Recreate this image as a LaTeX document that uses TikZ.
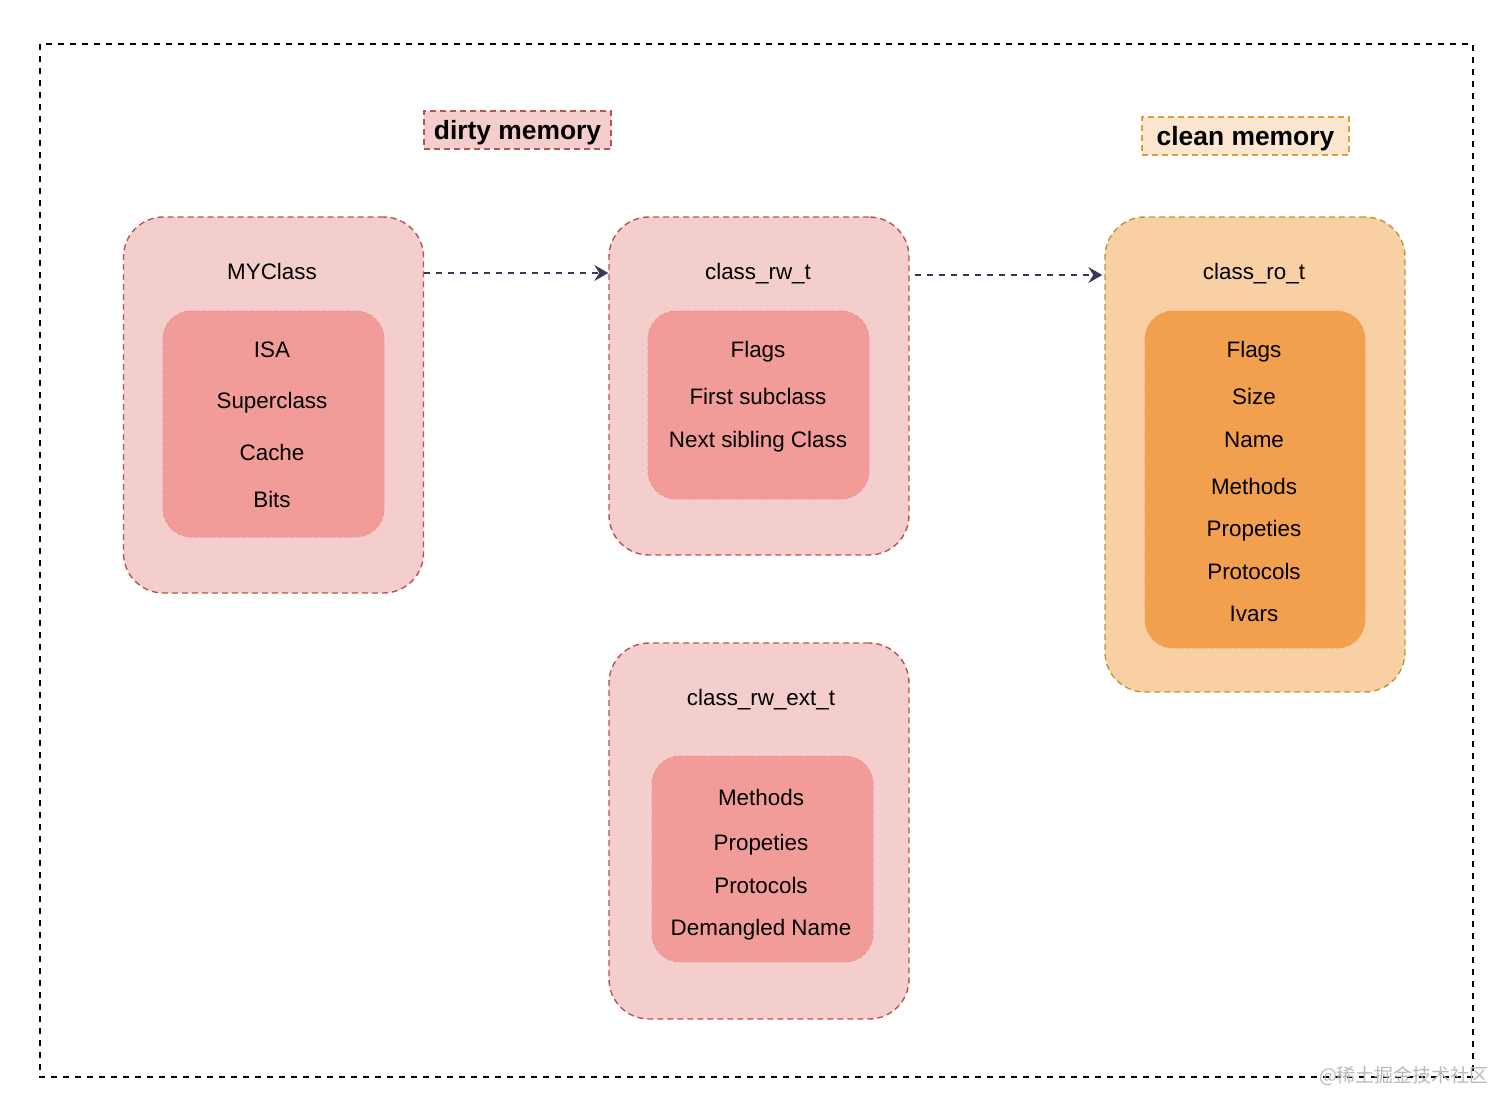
\documentclass[tikz,border=0pt]{standalone}
\usepackage{fontspec}
\setmainfont{Liberation Sans}
\newfontfamily\cjkfont{Noto Sans CJK SC}
\definecolor{dirtyfill}{HTML}{F3CECD}
\definecolor{dirtyline}{HTML}{B85450}
\definecolor{dirtyinner}{HTML}{F19C99}
\definecolor{cleanfill}{HTML}{F9D0A4}
\definecolor{cleanline}{HTML}{B59A3A}
\definecolor{cleaninner}{HTML}{F2A04E}
\definecolor{cleanlabel}{HTML}{FCE6D0}
\definecolor{cleanlabelline}{HTML}{D6A03A}
\definecolor{arrowcol}{HTML}{3B3756}
\usetikzlibrary{arrows.meta, positioning, calc}
\tikzset{
  dirtybox/.style={rectangle, rounded corners=20pt, minimum width=150pt, text centered, draw=dirtyline, fill=dirtyfill, dash pattern=on 3pt off 2pt, line width=0.7pt},
  cleanbox/.style={rectangle, rounded corners=20pt, minimum width=150pt, text centered, draw=cleanline, fill=cleanfill, dash pattern=on 3pt off 2pt, line width=0.7pt},
  dirtyfields/.style={rectangle, rounded corners=14pt, minimum width=110.5pt, draw=dirtyinner!90!dirtyline, fill=dirtyinner, dash pattern=on 2pt off 1pt, line width=0.4pt},
  cleanfields/.style={rectangle, rounded corners=14pt, minimum width=110pt, draw=cleaninner!85!dirtyinner, fill=cleaninner, dash pattern=on 2pt off 1pt, line width=0.4pt},
  memlabel/.style={rectangle, inner sep=0pt, minimum height=19pt, text height=9.5pt, text depth=0pt, font=\fontsize{13.2}{15}\selectfont\bfseries, dash pattern=on 3pt off 2pt, line width=0.7pt},
  title/.style={inner sep=0pt, text height=8pt, text depth=0pt, font=\fontsize{11.2}{13}\selectfont},
  field/.style={inner sep=0pt, text height=8pt, text depth=0pt, font=\fontsize{11.2}{13}\selectfont},
  arrow/.style={arrowcol, line width=0.7pt, dash pattern=on 3pt off 3pt, -{Stealth[length=7pt,width=8pt,inset=2.5pt]}}
}
\begin{document}
\begin{tikzpicture}[x=0.5pt, y=-0.5pt]
  \useasboundingbox (0,0) rectangle (1512,1115);

  % Outer frame
  \draw [line width=0.7pt, dash pattern=on 3pt off 3pt] (40,44) rectangle (1473,1077);

  % Memory labels
  \node (dirty) [memlabel, draw=dirtyline, fill=dirtyfill, minimum width=93.5pt] at (517.5,130) {dirty memory};
  \node (clean) [memlabel, draw=cleanlabelline, fill=cleanlabel, minimum width=103.5pt] at (1245.5,136) {clean memory};

  % MYClass
  \node (myclass) [dirtybox, minimum height=188pt] at (273.5,405) {};
  \node (myclasstitle) [title] at (272,271) {MYClass};
  \node (myclassfields) [dirtyfields, minimum height=113pt] at (273.5,424) {};
  \foreach \txt/\y in {ISA/349, Superclass/400, Cache/452, Bits/499}
    \node [field] at (272,\y) {\txt};

  % class_rw_t
  \node (rw) [dirtybox, minimum height=169pt] at (759,386) {};
  \node (rwtitle) [title] at (758,271) {class\_rw\_t};
  \node (rwfields) [dirtyfields, minimum height=94pt] at (758.5,405) {};
  \foreach \txt/\y in {Flags/349, First subclass/396, Next sibling Class/439}
    \node [field] at (758,\y) {\txt};

  % class_ro_t
  \node (ro) [cleanbox, minimum height=237.5pt] at (1255,454.5) {};
  \node (rotitle) [title] at (1254,271) {class\_ro\_t};
  \node (rofields) [cleanfields, minimum height=168.5pt] at (1255,479.5) {};
  \foreach \txt/\y in {Flags/349, Size/396, Name/439, Methods/486, Propeties/528, Protocols/571, Ivars/613}
    \node [field] at (1254,\y) {\txt};

  % class_rw_ext_t
  \node (rwext) [dirtybox, minimum height=188pt] at (759,831) {};
  \node (rwexttitle) [title] at (761,697) {class\_rw\_ext\_t};
  \node (rwextfields) [dirtyfields, minimum height=103pt] at (762.5,859) {};
  \foreach \txt/\y in {Methods/797, Propeties/842, Protocols/885, Demangled Name/927}
    \node [field] at (761,\y) {\txt};

  % Connections
  \draw [arrow] ([yshift=-1pt]myclass.east |- myclasstitle) -- ([yshift=-1pt]rw.west |- myclasstitle);
  \draw [arrow, shorten <=2.5pt, shorten >=1pt] ([yshift=-2pt]rw.east |- rwtitle) -- ([yshift=-2pt]ro.west |- rwtitle);

  % Watermark
  \node (mark) [font=\cjkfont\fontsize{9.5}{11}\selectfont, text=gray!55] at (1404,1076) {@稀土掘金技术社区};

\end{tikzpicture}
\end{document}
